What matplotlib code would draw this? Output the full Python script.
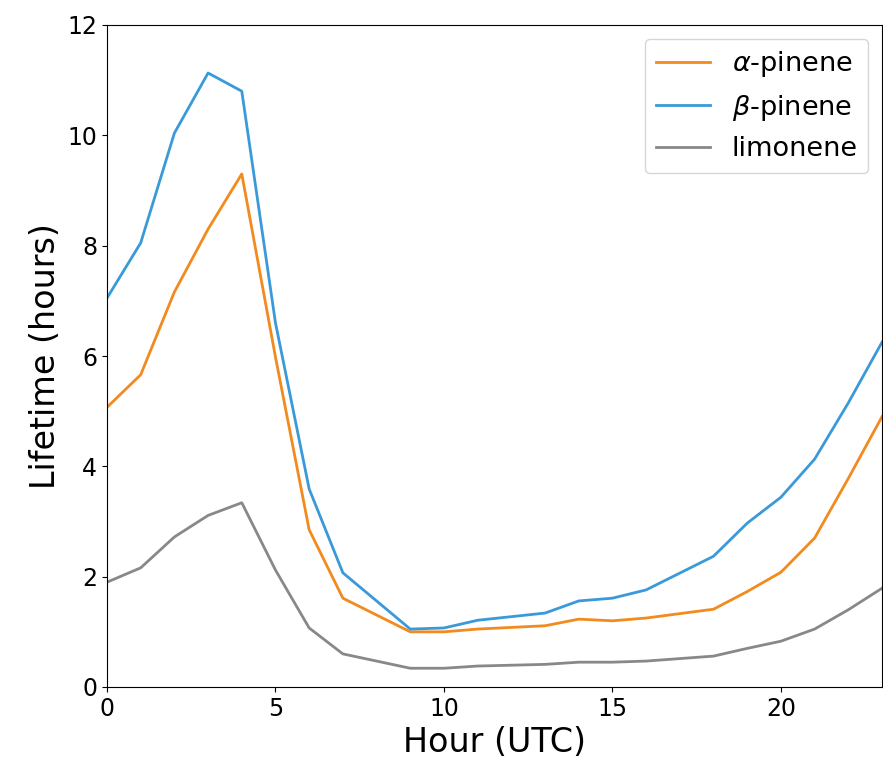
import matplotlib
matplotlib.use("Agg")
import matplotlib.pyplot as plt

# hours with data (8, 12 and 17 are missing in the source)
hours = [0, 1, 2, 3, 4, 5, 6, 7, 9, 10, 11, 13, 14, 15, 16, 18, 19, 20, 21, 22, 23]

alpha_pinene = [5.07, 5.66, 7.16, 8.30, 9.30, 5.98, 2.85, 1.61, 1.00, 1.00, 1.05, 1.11,
                1.23, 1.20, 1.25, 1.41, 1.73, 2.08, 2.70, 3.78, 4.90]
beta_pinene = [7.05, 8.05, 10.04, 11.13, 10.80, 6.60, 3.59, 2.07, 1.05, 1.07, 1.21, 1.34,
               1.56, 1.61, 1.76, 2.37, 2.97, 3.44, 4.13, 5.15, 6.25]
limonene = [1.90, 2.16, 2.72, 3.11, 3.34, 2.12, 1.07, 0.60, 0.34, 0.34, 0.38, 0.41,
            0.45, 0.45, 0.47, 0.56, 0.70, 0.83, 1.05, 1.40, 1.79]

fig = plt.figure(figsize=(8.83, 7.67), dpi=100)
ax = fig.add_axes([107 / 883, 80 / 767, 775 / 883, 662 / 767])

ax.plot(hours, alpha_pinene, color="#f28a1e", lw=2, label=r"$\alpha$-pinene")
ax.plot(hours, beta_pinene, color="#3a9ad9", lw=2, label=r"$\beta$-pinene")
ax.plot(hours, limonene, color="#888888", lw=2, label="limonene")

ax.set_xlim(0, 23)
ax.set_ylim(0, 12)
ax.set_xticks([0, 5, 10, 15, 20])
ax.set_yticks([0, 2, 4, 6, 8, 10, 12])
ax.tick_params(labelsize=17)
ax.set_xlabel("Hour (UTC)", fontsize=24)
ax.set_ylabel("Lifetime (hours)", fontsize=24)
ax.legend(fontsize=19.5, loc="upper right")

fig.savefig("out.png", dpi=100)
